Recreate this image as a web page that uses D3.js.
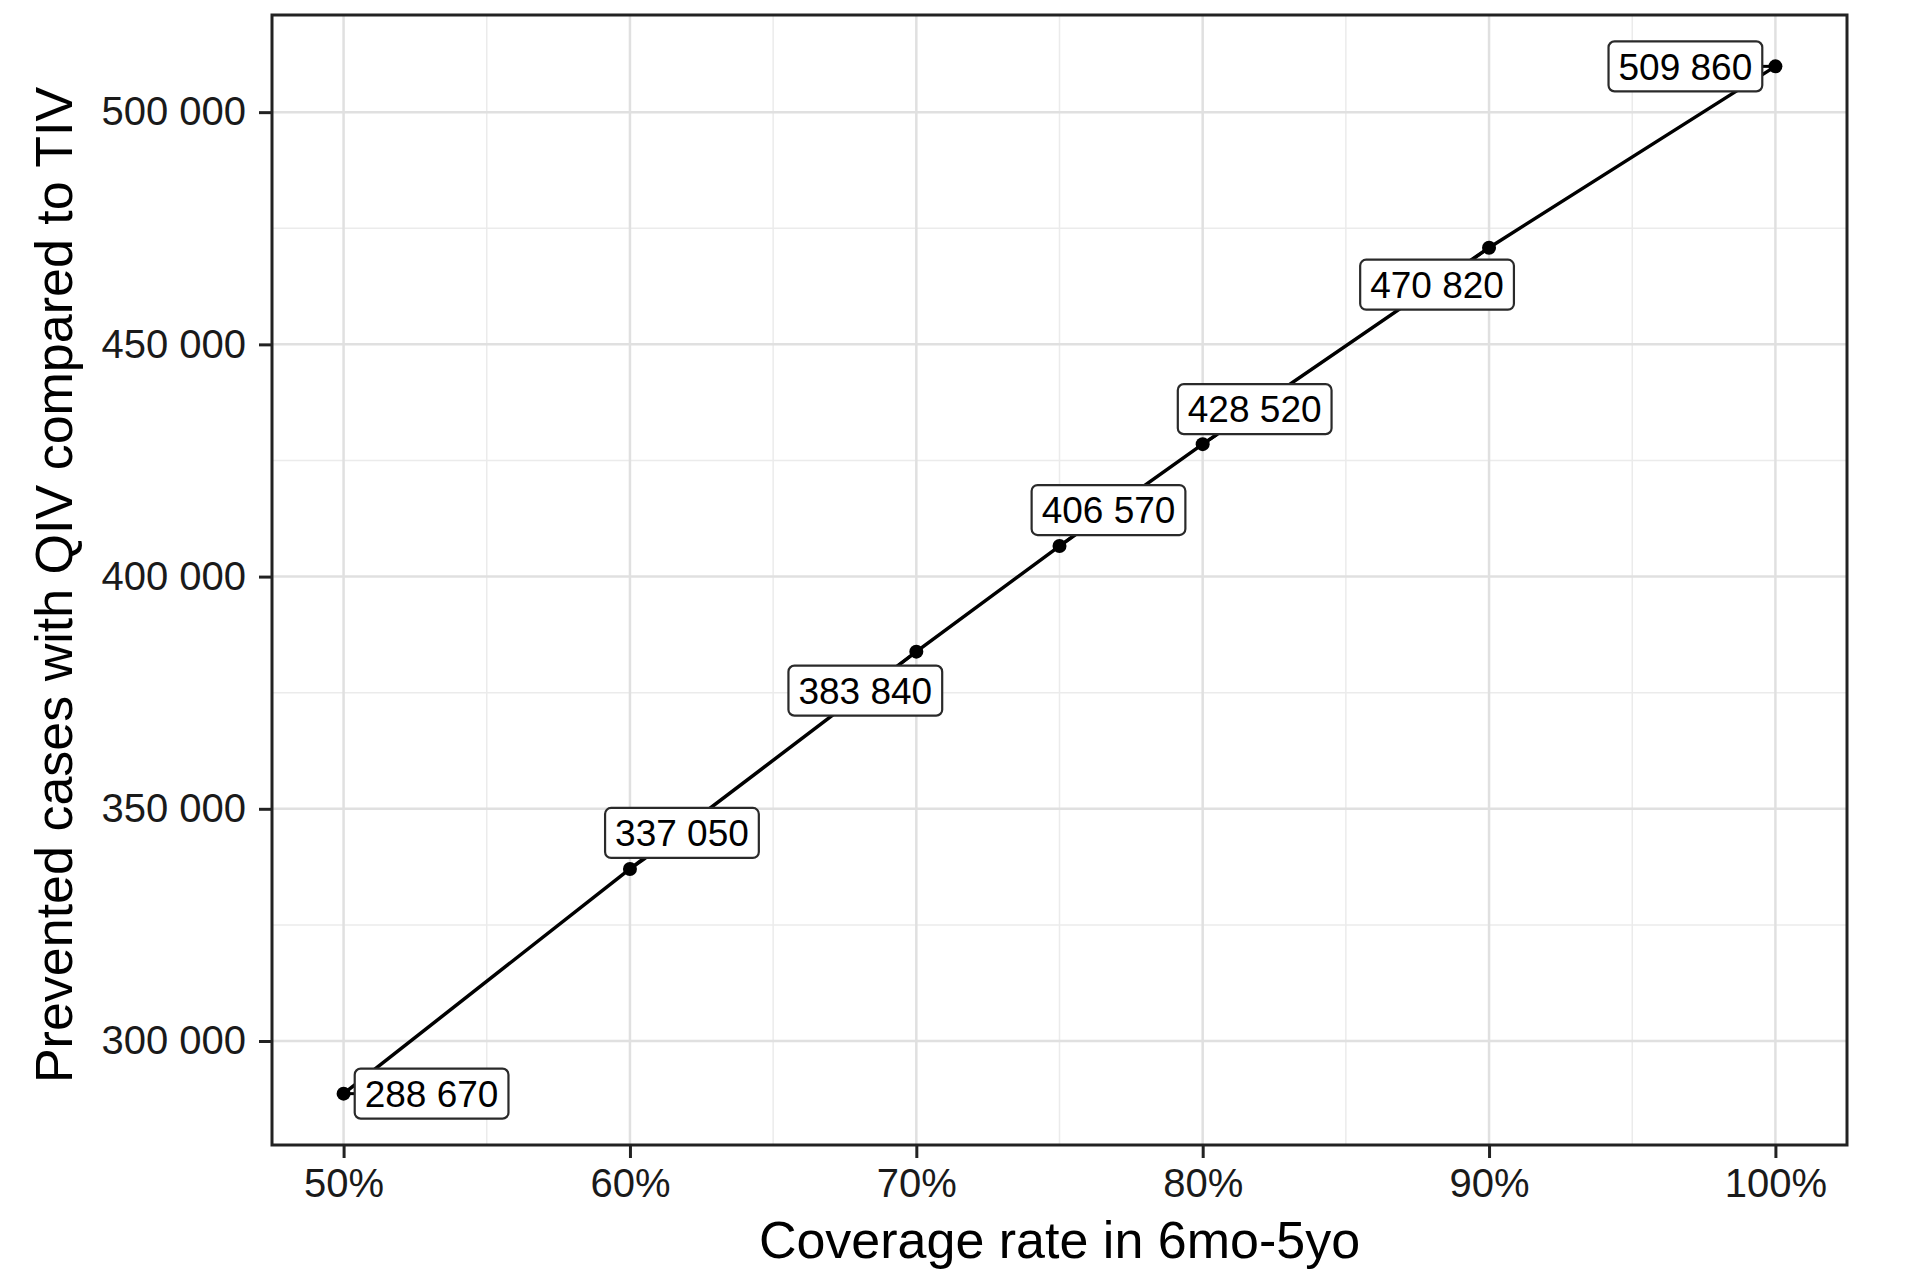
<!DOCTYPE html>
<html>
<head>
<meta charset="utf-8">
<script src="https://cdn.jsdelivr.net/npm/d3@7"></script>
<style>
  body { margin: 0; background: #fff; }
  text { font-family: "Liberation Sans", Arial, sans-serif; }
</style>
</head>
<body>
<div id="chart"></div>
<script>
// Data
const coverage = [50, 60, 70, 75, 80, 90, 100];
const prevented = [288670, 337050, 383840, 406570, 428520, 470820, 509860];
const xTicks = [50, 60, 70, 80, 90, 100];
const xMinor = [55, 65, 75, 85, 95];
const yTicks = [300000, 350000, 400000, 450000, 500000];
const yMinor = [325000, 375000, 425000, 475000];

// Where the repelled labels ended up, relative to each point (px)
const labelDx = [88, 52, -51, 49, 52, -52, -90];
const labelDy = [0, -36, 39, -36, -35, 37, 0];

const width = 1920, height = 1278;
const margin = { top: 15, right: 73, bottom: 133, left: 272 };

const svg = d3.select("#chart").append("svg")
    .attr("width", width)
    .attr("height", height);

const data = coverage.map((c, i) => ({ x: c, y: prevented[i], dx: labelDx[i], dy: labelDy[i] }));

// ggplot style 5% expansion
const xExt = d3.extent(coverage), yExt = d3.extent(prevented);
const xPad = (xExt[1] - xExt[0]) * 0.05, yPad = (yExt[1] - yExt[0]) * 0.05;

const x = d3.scaleLinear()
    .domain([xExt[0] - xPad, xExt[1] + xPad])
    .range([margin.left, width - margin.right]);

const y = d3.scaleLinear()
    .domain([yExt[0] - yPad, yExt[1] + yPad])
    .range([height - margin.bottom, margin.top]);

const fmt = d3.formatLocale({ decimal: ".", thousands: " ", grouping: [3], currency: ["", ""] }).format(",");

const x0 = margin.left, x1 = width - margin.right;
const y0 = margin.top, y1 = height - margin.bottom;

// Grid lines
const grid = svg.append("g");
grid.selectAll(".vminor").data(xMinor).join("line")
    .attr("x1", d => x(d)).attr("x2", d => x(d))
    .attr("y1", y0).attr("y2", y1)
    .attr("stroke", "#ebebeb").attr("stroke-width", 1.5);
grid.selectAll(".hminor").data(yMinor).join("line")
    .attr("x1", x0).attr("x2", x1)
    .attr("y1", d => y(d)).attr("y2", d => y(d))
    .attr("stroke", "#ebebeb").attr("stroke-width", 1.5);
grid.selectAll(".vmajor").data(xTicks).join("line")
    .attr("x1", d => x(d)).attr("x2", d => x(d))
    .attr("y1", y0).attr("y2", y1)
    .attr("stroke", "#e0e0e0").attr("stroke-width", 2.5);
grid.selectAll(".hmajor").data(yTicks).join("line")
    .attr("x1", x0).attr("x2", x1)
    .attr("y1", d => y(d)).attr("y2", d => y(d))
    .attr("stroke", "#e0e0e0").attr("stroke-width", 2.5);

// Axes
const xAxis = svg.append("g")
    .attr("transform", `translate(0,${y1})`)
    .call(d3.axisBottom(x).tickValues(xTicks).tickFormat(d => d + "%").tickSize(13).tickPadding(10));
const yAxis = svg.append("g")
    .attr("transform", `translate(${x0},0)`)
    .call(d3.axisLeft(y).tickValues(yTicks).tickFormat(fmt).tickSize(13).tickPadding(13));

[xAxis, yAxis].forEach(a => {
    a.select(".domain").remove();
    a.selectAll(".tick line").attr("stroke", "#222").attr("stroke-width", 3);
    a.selectAll(".tick text")
        .attr("font-family", "Liberation Sans, Arial, sans-serif")
        .attr("font-size", 40)
        .attr("fill", "#1a1a1a");
});
xAxis.selectAll(".tick text").attr("dy", "0.72em");

// Line and points
const line = d3.line().x(d => x(d.x)).y(d => y(d.y));
svg.append("path")
    .datum(data)
    .attr("d", line)
    .attr("fill", "none")
    .attr("stroke", "#000")
    .attr("stroke-width", 3.5);

svg.selectAll(".pt").data(data).join("circle")
    .attr("cx", d => x(d.x))
    .attr("cy", d => y(d.y))
    .attr("r", 7)
    .attr("fill", "#000");

// Labels (boxes drawn over the line)
const labels = svg.append("g");
data.forEach(d => {
    const px = x(d.x), py = y(d.y);
    const cx = px + d.dx, cy = py + d.dy;
    const g = labels.append("g");
    const t = g.append("text")
        .attr("x", cx)
        .attr("y", cy)
        .attr("text-anchor", "middle")
        .attr("dy", "0.36em")
        .attr("font-size", 37)
        .attr("fill", "#000")
        .text(fmt(d.y));
    const bb = t.node().getBBox();
    const padX = 10;
    const bw = bb.width + padX * 2, bh = 50;
    const bx = cx - bw / 2, by = cy - bh / 2;

    // short segment from the point to the box edge
    const vx = px - cx, vy = py - cy;
    const s = Math.min(Math.abs(vx) > 0 ? (bw / 2) / Math.abs(vx) : Infinity,
                       Math.abs(vy) > 0 ? (bh / 2) / Math.abs(vy) : Infinity);
    if (s < 1) {
        g.insert("line", "text")
            .attr("x1", px).attr("y1", py)
            .attr("x2", cx + vx * s).attr("y2", cy + vy * s)
            .attr("stroke", "#000").attr("stroke-width", 3);
    }
    g.insert("rect", "text")
        .attr("x", bx).attr("y", by)
        .attr("width", bw).attr("height", bh)
        .attr("rx", 6).attr("ry", 6)
        .attr("fill", "#fff")
        .attr("stroke", "#2a2a2a")
        .attr("stroke-width", 2.2);
});

// Panel border
svg.append("rect")
    .attr("x", x0).attr("y", y0)
    .attr("width", x1 - x0).attr("height", y1 - y0)
    .attr("fill", "none")
    .attr("stroke", "#222")
    .attr("stroke-width", 3);

// Axis titles
svg.append("text")
    .attr("x", (x0 + x1) / 2)
    .attr("y", 1258)
    .attr("text-anchor", "middle")
    .attr("font-size", 52)
    .attr("fill", "#000")
    .text("Coverage rate in 6mo-5yo");

svg.append("text")
    .attr("transform", `translate(72,${(y0 + y1) / 2 + 5}) rotate(-90)`)
    .attr("text-anchor", "middle")
    .attr("font-size", 52)
    .attr("fill", "#000")
    .text("Prevented cases with QIV compared to TIV");
</script>
</body>
</html>
